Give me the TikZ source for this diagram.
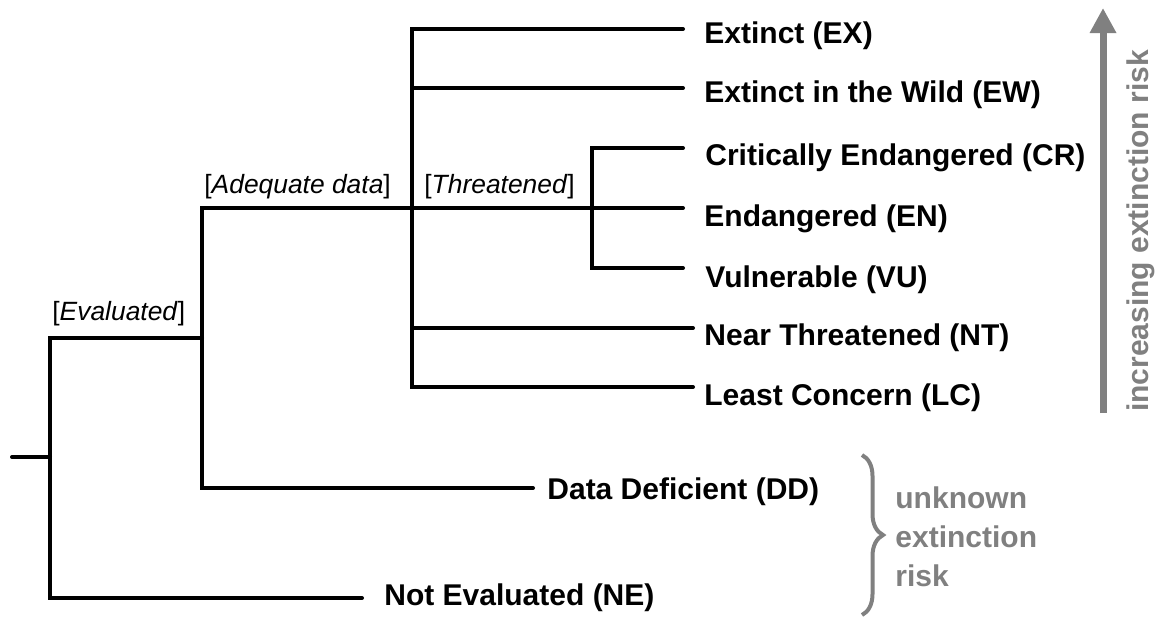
\documentclass[tikz,border=0pt]{standalone}
\usepackage{fontspec}
\setmainfont{Liberation Sans}
\usetikzlibrary{arrows.meta,decorations.pathreplacing}
\definecolor{riskgrey}{RGB}{128,128,128}

\begin{document}
\begin{tikzpicture}[x=0.5pt, y=-0.5pt,
    branch/.style={line width=2pt, line cap=round},
    cat/.style={font=\fontsize{15}{18}\selectfont\bfseries, inner sep=0pt, anchor=base west},
    cond/.style={font=\fontsize{13.2}{16}\selectfont, inner sep=0pt, anchor=base west},
    risk/.style={text=riskgrey, font=\fontsize{15}{19.5}\selectfont\bfseries, inner sep=0pt}]
  \useasboundingbox (0,0) rectangle (1159,617);

  % junctions of the tree
  \coordinate (root) at (12,457);
  \coordinate (rootJ) at (50,457);
  \coordinate (evalTop) at (50,338);
  \coordinate (evalBot) at (50,598);
  \coordinate (adqMid) at (202,338);
  \coordinate (adqTop) at (202,208);
  \coordinate (adqBot) at (202,488);
  \coordinate (thrTop) at (412,29);
  \coordinate (thrBot) at (412,387);
  \coordinate (critTop) at (592,148);
  \coordinate (critBot) at (592,268);

  % free ends of the branches
  \coordinate (exEnd) at (683,29);
  \coordinate (ewEnd) at (683,88);
  \coordinate (crEnd) at (683,148);
  \coordinate (enEnd) at (683,208);
  \coordinate (vuEnd) at (683,268);
  \coordinate (ntEnd) at (693,328);
  \coordinate (lcEnd) at (693,387);
  \coordinate (ddEnd) at (533,488);
  \coordinate (neEnd) at (362,598);

  \draw[branch] (root) -- (rootJ);
  \draw[branch] (adqMid) -- (evalTop) -- (evalBot) -- (neEnd);
  \draw[branch] (enEnd) -- (adqTop) -- (adqBot) -- (ddEnd);
  \draw[branch] (exEnd) -- (thrTop) -- (thrBot) -- (lcEnd);
  \draw[branch] (thrTop |- ewEnd) -- (ewEnd);
  \draw[branch] (thrTop |- ntEnd) -- (ntEnd);
  \draw[branch] (crEnd) -- (critTop) -- (critBot) -- (vuEnd);

  % categories
  \node[cat] (ex) at (704,43) {Extinct (EX)};
  \node[cat] (ew) at (704,102) {Extinct in the Wild (EW)};
  \node[cat] (cr) at (705,165) {Critically Endangered (CR)};
  \node[cat] (en) at (704,226) {Endangered (EN)};
  \node[cat] (vu) at (705,287) {Vulnerable (VU)};
  \node[cat] (nt) at (704,345) {Near Threatened (NT)};
  \node[cat] (lc) at (704,405) {Least Concern (LC)};
  \node[cat] (dd) at (547,499) {Data Deficient (DD)};
  \node[cat] (ne) at (384,605) {Not Evaluated (NE)};

  % conditions on the branches
  \node[cond] (evalLbl) at (52,320) {[\textit{Evaluated}]};
  \node[cond] (adqLbl) at (204,193) {[\textit{Adequate data}]};
  \node[cond] (thrLbl) at (424,193) {[\textit{Threatened}]};

  % risk scale
  \coordinate (riskLow) at (1103,413);
  \coordinate (riskHigh) at (1103,8);
  \draw[riskgrey, line width=3.5pt, -{Triangle[width=12.5pt,length=12.5pt]}] (riskLow) -- (riskHigh);
  \node[risk, rotate=90, anchor=base] (riskLbl) at (1148,231) {increasing extinction risk};

  \coordinate (braceTop) at (862,455);
  \coordinate (braceBot) at (862,615);
  \draw[riskgrey, line width=2pt, decorate, decoration={brace, amplitude=10.5pt}] (braceTop) -- (braceBot);
  \node[risk, align=left, anchor=west] (unk) at (895,537) {unknown\\extinction\\risk};
\end{tikzpicture}
\end{document}
